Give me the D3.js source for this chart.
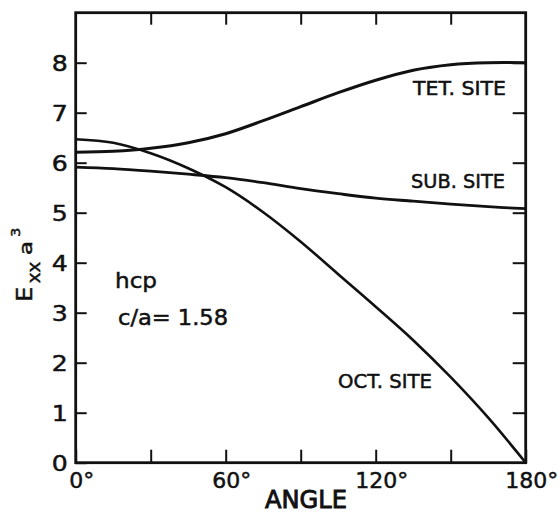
<!DOCTYPE html>
<html>
<head>
<meta charset="utf-8">
<script src="https://cdn.jsdelivr.net/npm/d3@7"></script>
<style>
  html, body { margin: 0; padding: 0; background: #fff; }
  svg { display: block; }
  text { font-family: "DejaVu Sans", "Liberation Sans", sans-serif; fill: #111; stroke: #111; stroke-width: 0.5px; }
</style>
</head>
<body>
<svg id="chart" width="560" height="514"></svg>
<script>
// Angle of the field direction (degrees)
const angles = [0, 15, 30, 45, 60, 75, 90, 105, 120, 135, 150, 165, 180];
// E_xx a^3 for each interstitial / substitutional site
const tetSite = [6.21, 6.23, 6.29, 6.40, 6.58, 6.84, 7.12, 7.40, 7.65, 7.85, 7.96, 8.00, 8.00];
const subSite = [5.91, 5.88, 5.83, 5.77, 5.70, 5.60, 5.48, 5.38, 5.29, 5.23, 5.17, 5.12, 5.08];
const octSite = [6.47, 6.40, 6.19, 5.89, 5.51, 5.01, 4.42, 3.77, 3.12, 2.45, 1.71, 0.90, 0.00];

const xTicks = [0, 60, 120, 180];
const xMinorTicks = [30, 60, 90, 120, 150];
const yTicks = [0, 1, 2, 3, 4, 5, 6, 7, 8];
const yRightTicks = [1, 2, 3, 4, 5, 6, 7, 8];

const svg = d3.select("#chart");
const plotL = 75.7, plotR = 525.7, plotT = 12.7, plotB = 462.7;

const x = d3.scaleLinear().domain([0, 180]).range([plotL, plotR]);
const y = d3.scaleLinear().domain([0, 9]).range([plotB, plotT]);

const ink = "#111";

// Bottom axis: inward ticks, labels with degree sign
const gx = svg.append("g")
  .attr("transform", `translate(0,${plotB})`)
  .call(d3.axisBottom(x).tickValues([0, 30, 60, 90, 120, 150, 180])
    .tickSizeInner(-13).tickSizeOuter(0).tickPadding(10)
    .tickFormat(d => xTicks.includes(d) ? String(d) : ""));
gx.select(".domain").remove();
gx.selectAll("line").attr("stroke", ink).attr("stroke-width", 2);
gx.selectAll("text").attr("font-size", 22).attr("fill", ink);
gx.selectAll("text").each(function () {
  const t = d3.select(this);
  const s = t.text();
  if (!s) return;
  const w = this.getComputedTextLength();
  t.attr("text-anchor", "start").attr("x", -w / 2);
  t.append("tspan").text("°");
});

// Top axis: inward ticks only
const gt = svg.append("g")
  .attr("transform", `translate(0,${plotT})`)
  .call(d3.axisTop(x).tickValues(xMinorTicks).tickSizeInner(-12).tickSizeOuter(0).tickFormat(""));
gt.select(".domain").remove();
gt.selectAll("line").attr("stroke", ink).attr("stroke-width", 2);

// Left axis
const gy = svg.append("g")
  .attr("transform", `translate(${plotL},0)`)
  .call(d3.axisLeft(y).tickValues(yTicks).tickSizeInner(-11).tickSizeOuter(0).tickPadding(8)
    .tickFormat(d3.format("d")));
gy.select(".domain").remove();
gy.selectAll("line").attr("stroke", ink).attr("stroke-width", 2);
gy.selectAll("text").attr("font-size", 22).attr("fill", ink).attr("dy", "0.36em")
  .attr("textLength", 16).attr("lengthAdjust", "spacingAndGlyphs");

// Right axis: inward ticks only
const gr = svg.append("g")
  .attr("transform", `translate(${plotR},0)`)
  .call(d3.axisRight(y).tickValues(yRightTicks).tickSizeInner(-13).tickSizeOuter(0).tickFormat(""));
gr.select(".domain").remove();
gr.selectAll("line").attr("stroke", ink).attr("stroke-width", 2);

// Frame
svg.append("rect")
  .attr("x", plotL).attr("y", plotT)
  .attr("width", plotR - plotL).attr("height", plotB - plotT)
  .attr("fill", "none").attr("stroke", ink).attr("stroke-width", 2.8);

// Curves
const line = d3.line()
  .x((d, i) => x(angles[i]))
  .y(d => y(d))
  .curve(d3.curveCatmullRom.alpha(0.5));

[[tetSite, 3], [subSite, 2.8], [octSite, 2.6]].forEach(([vals, w]) => {
  svg.append("path")
    .datum(vals)
    .attr("d", line)
    .attr("fill", "none")
    .attr("stroke", ink)
    .attr("stroke-width", w)
    .attr("stroke-linejoin", "round");
});

// Curve labels
const siteLabels = [
  { text: "TET. SITE", x: 413, y: 95, len: 93 },
  { text: "SUB. SITE", x: 411, y: 188, len: 94 },
  { text: "OCT. SITE", x: 338, y: 388, len: 94 }
];
siteLabels.forEach(l => {
  svg.append("text")
    .attr("x", l.x).attr("y", l.y)
    .attr("font-size", 19)
    .attr("textLength", l.len).attr("lengthAdjust", "spacingAndGlyphs")
    .text(l.text);
});

// Structure annotation
svg.append("text").attr("x", 115).attr("y", 288).attr("font-size", 22)
  .attr("textLength", 42).attr("lengthAdjust", "spacingAndGlyphs").text("hcp");
svg.append("text").attr("x", 118).attr("y", 325).attr("font-size", 21)
  .attr("textLength", 110).attr("lengthAdjust", "spacingAndGlyphs").text("c/a= 1.58");

// X axis title
svg.append("text").attr("x", 265).attr("y", 508).attr("font-size", 24)
  .style("stroke-width", "0.9px")
  .attr("textLength", 82).attr("lengthAdjust", "spacingAndGlyphs").text("ANGLE");

// Y axis title: E_xx a^3, rotated
const yt = svg.append("g").attr("transform", "translate(31.7,0) rotate(-90)");
yt.append("text").attr("x", -301.7).attr("y", 0).attr("font-size", 21)
  .attr("textLength", 15).attr("lengthAdjust", "spacingAndGlyphs").text("E");
yt.append("text").attr("x", -283.3).attr("y", 8.3).attr("font-size", 18)
  .attr("textLength", 21.5).attr("lengthAdjust", "spacingAndGlyphs").text("xx");
yt.append("text").attr("x", -255).attr("y", 0).attr("font-size", 18)
  .attr("textLength", 14).attr("lengthAdjust", "spacingAndGlyphs").text("a");
yt.append("text").attr("x", -236.7).attr("y", -11.7).attr("font-size", 12)
  .attr("textLength", 9).attr("lengthAdjust", "spacingAndGlyphs").text("3");
</script>
</body>
</html>
